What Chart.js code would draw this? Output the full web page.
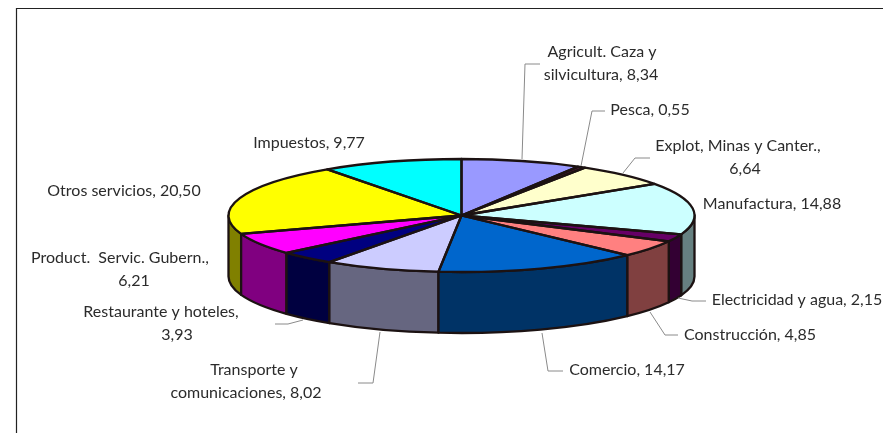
<!DOCTYPE html>
<html><head><meta charset="utf-8">
<style>html,body{margin:0;padding:0;background:#fff;overflow:hidden}canvas{display:block}</style>
<script src="https://cdn.jsdelivr.net/npm/chart.js@4"></script>
</head><body>
<div style="width:883px;height:433px"><canvas id="c" width="883" height="433"></canvas></div>
<script>
const categories = ["Agricult. Caza y silvicultura","Pesca","Explot, Minas y Canter.","Manufactura","Electricidad y agua","Construcción","Comercio","Transporte y comunicaciones","Restaurante y hoteles","Product.  Servic. Gubern.","Otros servicios","Impuestos"];
const values = [8.34,0.55,6.64,14.88,2.15,4.85,14.17,8.02,3.93,6.21,20.50,9.77];
const topColors = ["#9999FF","#4A1A33","#FFFFCC","#CCFFFF","#660066","#FF8080","#0066CC","#CCCCFF","#000080","#FF00FF","#FFFF00","#00FFFF"];
const sideColors = ["#4C4C80","#4C1933","#808066","#668080","#330033","#804040","#003366","#666680","#000040","#800080","#808000","#008080"];
const labelLines = [["Agricult. Caza y","silvicultura, 8,34"],["Pesca, 0,55"],["Explot, Minas y Canter.,","6,64"],["Manufactura, 14,88"],["Electricidad y agua, 2,15"],["Construcción, 4,85"],["Comercio, 14,17"],["Transporte y","comunicaciones, 8,02"],["Restaurante y hoteles,","3,93"],["Product.  Servic. Gubern.,","6,21"],["Otros servicios, 20,50"],["Impuestos, 9,77"]];
const labelCenters = [[602,52],[650,110],[738,146],[772,204],[797,300],[750,335],[627,370],[254,370],[161,312],[120,258],[124,191],[309,143]];
const secondLineCenters = {0:601,2:745,7:246,8:177,9:134};
const leaders = [[[522,159],[525,64],[540,64]],[[581,166],[592,111],[605,111]],[[623,173],[635,158],[650,158]],null,[[678,298],[692,301],[706,301]],[[650,312],[665,335],[678,335]],[[542,333],[548,371],[563,371]],[[380,332],[373,383],[358,383]],[[303,320],[288,324],[275,324]],null,null,null];

const CX=461.5, CY=215.5, RX=233, RY=56.5, DEPTH=61;
const INK="#1c1212";

const pie3d = {
  id:"pie3d",
  beforeDraw(chart){
    const c=chart.ctx; c.save();
    c.strokeStyle="#222"; c.lineWidth=1.2;
    c.beginPath(); c.moveTo(16.5,433); c.lineTo(16.5,8.5); c.lineTo(883,8.5); c.stroke();
    c.restore();
  },
  beforeDatasetDraw(chart,args){
    const c=chart.ctx, arcs=chart.getDatasetMeta(args.index).data;
    c.save(); c.lineWidth=2.3; c.strokeStyle=INK; c.lineJoin="round";
    const parts=[];
    arcs.forEach((a,i)=>{
      const p=a.getProps(["startAngle","endAngle"],true);
      for(const off of [0,2*Math.PI]){
        const s=Math.max(p.startAngle,off), e=Math.min(p.endAngle,Math.PI+off);
        if(e>s) parts.push([s,e,i]);
      }
    });
    parts.sort((x,y)=>Math.abs(Math.cos((y[0]+y[1])/2))-Math.abs(Math.cos((x[0]+x[1])/2)));
    parts.forEach(([s,e,i])=>{
      c.beginPath();
      c.ellipse(CX,CY,RX,RY,0,s,e);
      c.ellipse(CX,CY+DEPTH,RX,RY,0,e,s,true);
      c.closePath();
      c.fillStyle=sideColors[i]; c.fill(); c.stroke();
    });
    c.restore();
    const a0=arcs[0];
    c.save();
    c.translate(CX,CY); c.scale(RX/a0.outerRadius,RY/a0.outerRadius); c.translate(-a0.x,-a0.y);
  },
  afterDatasetDraw(chart,args){
    const c=chart.ctx, arcs=chart.getDatasetMeta(args.index).data;
    c.restore();
    c.save(); c.lineWidth=2.3; c.strokeStyle=INK; c.lineJoin="round";
    arcs.forEach(a=>{
      const p=a.getProps(["startAngle","endAngle"],true);
      c.beginPath(); c.moveTo(CX,CY);
      c.ellipse(CX,CY,RX,RY,0,p.startAngle,p.endAngle);
      c.closePath(); c.stroke();
    });
    c.restore();
  },
  afterDraw(chart){
    const c=chart.ctx; c.save();
    c.strokeStyle="#8a8a8a"; c.lineWidth=1;
    leaders.forEach(l=>{ if(!l) return;
      c.beginPath(); l.forEach((p,i)=>i?c.lineTo(p[0],p[1]):c.moveTo(p[0],p[1])); c.stroke();
    });
    c.fillStyle="#2b2b2b"; c.font="16px Lato"; c.textAlign="center"; c.textBaseline="middle";
    labelLines.forEach((ls,i)=>{
      const [x,y]=labelCenters[i];
      c.fillText(ls[0],x,y);
      if(ls[1]) c.fillText(ls[1],secondLineCenters[i],y+23);
    });
    c.restore();
  }
};

new Chart(document.getElementById("c"),{
  type:"pie",
  data:{labels:categories,datasets:[{data:values,backgroundColor:topColors,borderWidth:0,clip:false}]},
  options:{responsive:false,animation:false,radius:200,
    layout:{padding:0},
    plugins:{legend:{display:false},tooltip:{enabled:false},title:{display:false}}},
  plugins:[pie3d]
});
</script>
</body></html>
